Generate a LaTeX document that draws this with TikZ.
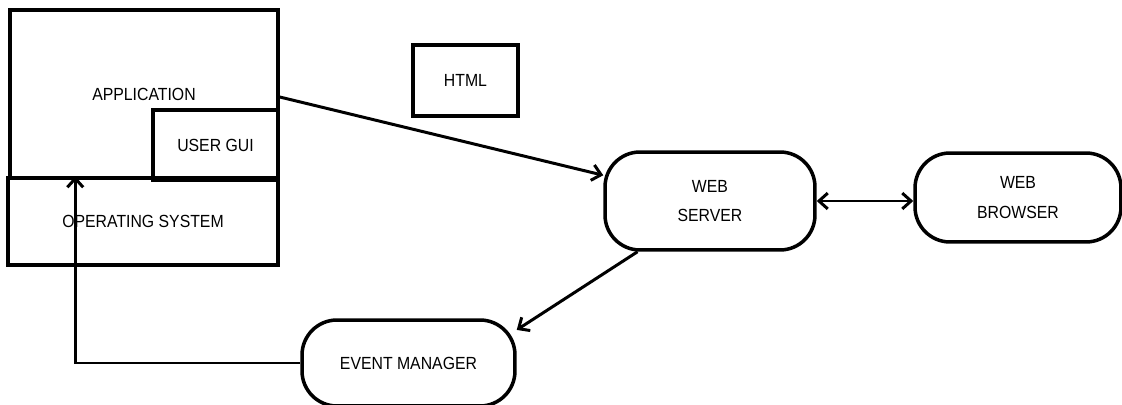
\documentclass[tikz,border=0pt]{standalone}
\usepackage{fontspec}
\setmainfont{Liberation Sans}[FakeStretch=0.9]
\usetikzlibrary{arrows.meta,shapes}

\tikzset{
  blk/.style={rectangle, draw=black, line width=2pt, text centered, inner sep=0pt},
  pill/.style={blk, rounded corners=0.7cm, align=center},
  lnk/.style={line width=1.7pt, black}
}

\begin{document}
\begin{tikzpicture}[x=0.02cm, y=-0.02cm, >={Straight Barb[length=5pt,width=9pt]},
  font=\fontsize{10}{17}\selectfont]

\useasboundingbox (0,0) rectangle (1122,405);

% left part: application stack
\node [blk, minimum width=5.36cm, minimum height=3.36cm] (app) at (144,94) {APPLICATION};
\node [blk, fill=white, minimum width=2.5cm, minimum height=1.4cm] (gui) at (215.5,145) {USER GUI};
\node [blk, minimum width=5.4cm, minimum height=1.74cm] (os) at (143,221.5) {OPERATING SYSTEM};

\node [blk, minimum width=2.1cm, minimum height=1.42cm] (html) at (465.5,80.5) {HTML};

% web side
\node [pill, minimum width=4.2cm, minimum height=1.96cm] (server) at (710,201) {WEB\\SERVER};
\node [pill, minimum width=4.12cm, minimum height=1.78cm] (browser) at (1018,197.5) {WEB\\BROWSER};
\node [pill, minimum width=4.26cm, minimum height=1.72cm] (evman) at (408.5,363) {EVENT MANAGER};

\draw [->, lnk] ([yshift=-0.06cm]app.east) to (server);
\draw [<->, lnk] (server.east) to (server.east -| browser.west);
\draw [->, lnk] (server.215) to (evman.17);
\draw [->, lnk] (evman.west) -| ([xshift=1.38cm]os.north west);

\end{tikzpicture}
\end{document}
